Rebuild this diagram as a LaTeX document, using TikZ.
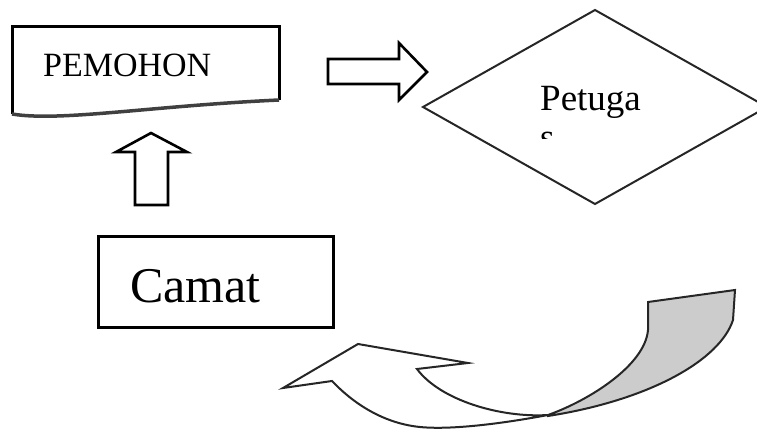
\documentclass[tikz,border=0pt]{standalone}
\usepackage{fontspec}
\setmainfont{Liberation Serif}
\newfontfamily\figserif{Liberation Serif}
\begin{document}
\begin{tikzpicture}[x=1pt,y=-1pt,
  boxline/.style={draw=black, line width=3pt},
  blockarrow/.style={draw=black, line width=2.6pt, fill=white, line join=miter},
  thinline/.style={draw=black!85, line width=2pt, line join=miter},
  label/.style={inner sep=0pt, text=black}]
\useasboundingbox (0,0) rectangle (757,428);
% PEMOHON document shape
\draw[boxline] (12,114) -- (12,27) -- (279,27) -- (279,100);
\draw[draw=black!75, line width=3.5pt] (12,114) .. controls (60,122) and (150,106) .. (279,100);
\node[label, anchor=base west, font=\figserif\fontsize{34}{40}\selectfont] (pemohon) at (43,77) {PEMOHON};
% right block arrow
\path[blockarrow] (328,59) -- (399,59) -- (399,43) -- (427,72) -- (399,100) -- (399,84) -- (328,84) -- cycle;
% diamond
\path[thinline] (423,107) -- (595,10) -- (767,107) -- (595,204) -- cycle;
\node[label, anchor=base west, font=\figserif\fontsize{37}{40}\selectfont] (petuga) at (540,110) {Petuga};
\begin{scope}
  \clip (530,128) rectangle (580,138);
  \node[label, anchor=base west, font=\figserif\fontsize{37}{40}\selectfont] (petugas) at (540,149) {s};
\end{scope}
% up block arrow
\path[blockarrow] (135,205) -- (135,152) -- (116,152) -- (151,133) -- (187,152) -- (168,152) -- (168,205) -- cycle;
% Camat box
\draw[boxline] (98,236) rectangle (333,327);
\node[label, anchor=base west, font=\figserif\fontsize{50}{56}\selectfont] (camat) at (130,302) {Camat};
% curved arrow: back (gray) face
\path[thinline, fill=black!20] (548,415) .. controls (590,400) and (645,365) .. (648,330) -- (648,302) -- (735,290) -- (733,320) .. controls (720,360) and (650,400) .. (548,416) -- cycle;
% curved arrow: front (white) face
\path[thinline, fill=white] (283,388) -- (358,344) -- (468,363) -- (417,369) .. controls (440,400) and (500,418) .. (548,415) .. controls (500,424) and (450,430) .. (420,427) .. controls (380,423) and (350,400) .. (332,381) -- cycle;
\end{tikzpicture}
\end{document}
